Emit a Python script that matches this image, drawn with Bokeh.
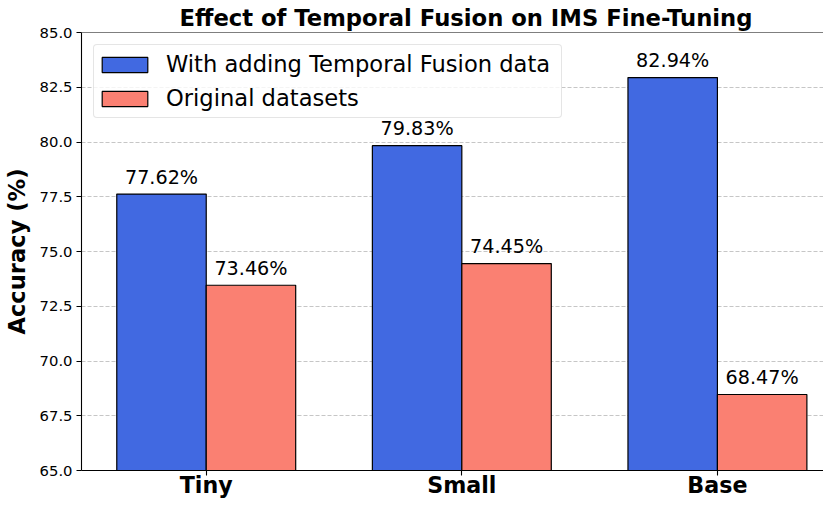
import numpy as np
from bokeh.plotting import figure
from bokeh.models import (Range1d, FixedTicker, PrintfTickFormatter, Span,
                          ColumnDataSource, Legend, LegendItem)
from bokeh.core.properties import value
from bokeh.embed import file_html
from bokeh.resources import INLINE

categories = ["Tiny", "Small", "Base"]
with_fusion = [77.62, 79.83, 82.94]
original = [73.46, 74.45, 68.47]
series_names = ["With adding Temporal Fusion data", "Original datasets"]
y_ticks = [65.0, 67.5, 70.0, 72.5, 75.0, 77.5, 80.0, 82.5, 85.0]

FONT = "DejaVu Sans"
BLUE = "#4169E1"
SALMON = "#FA8072"
bar_w = 0.35

idx = np.arange(len(categories), dtype=float)

p = figure(width=823, height=500, output_backend="svg", toolbar_location=None,
           x_range=Range1d(-0.488, 2.415), y_range=Range1d(65, 85),
           min_border_left=74, min_border_right=0, min_border_top=26,
           min_border_bottom=26, outline_line_color=None)

p.title.text = "Effect of Temporal Fusion on IMS Fine-Tuning"
p.title.text_font = FONT
p.title.text_font_size = "22.7px"
p.title.text_font_style = "bold"
p.title.text_color = "black"
p.title.text_line_height = 1.0
p.title.align = "left"
p.title.offset = 98
p.title.standoff = 4

src1 = ColumnDataSource(dict(x=idx - bar_w / 2, top=with_fusion,
                             lab=[f"{v:.2f}%" for v in with_fusion]))
src2 = ColumnDataSource(dict(x=idx + bar_w / 2, top=original,
                             lab=[f"{v:.2f}%" for v in original]))

r1 = p.vbar(x="x", top="top", bottom=65, width=bar_w, source=src1,
            fill_color=BLUE, line_color="black", line_width=1.2)
r2 = p.vbar(x="x", top="top", bottom=65, width=bar_w, source=src2,
            fill_color=SALMON, line_color="black", line_width=1.2)

for s in (src1, src2):
    p.text(x="x", y="top", text="lab", source=s, text_align="center",
           text_baseline="alphabetic", y_offset=-17,
           text_font=value(FONT), text_font_size="19.2px", text_color="black")

# axes
yax = p.yaxis[0]
yax.ticker = FixedTicker(ticks=y_ticks)
yax.formatter = PrintfTickFormatter(format="%.1f")
yax.axis_label = "Accuracy (%)"
yax.axis_label_text_font = FONT
yax.axis_label_text_font_size = "22.6px"
yax.axis_label_text_font_style = "bold"
yax.axis_label_text_color = "black"
yax.axis_label_standoff = 7
yax.major_label_text_font = FONT
yax.major_label_text_font_size = "14.8px"
yax.major_label_standoff = 4
yax.major_label_text_color = "black"

xax = p.xaxis[0]
xax.ticker = FixedTicker(ticks=list(idx))
xax.major_label_overrides = {float(i): c for i, c in zip(idx, categories)}
xax.major_label_text_font = FONT
xax.major_label_text_font_size = "22.2px"
xax.major_label_text_font_style = "bold"
xax.major_label_text_color = "black"
xax.major_label_standoff = -4

for ax in (xax, yax):
    ax.major_tick_in = 0
    ax.major_tick_out = 5
    ax.minor_tick_line_color = None
    ax.axis_line_color = "black"
    ax.axis_line_width = 1.1
    ax.major_tick_line_width = 1.1

p.add_layout(Span(location=85, dimension="width", line_color="black",
                  line_width=1.1))

p.xgrid.grid_line_color = None
p.ygrid.ticker = FixedTicker(ticks=y_ticks)
p.ygrid.grid_line_color = "#b8b8b8"
p.ygrid.grid_line_alpha = 0.8
p.ygrid.grid_line_dash = "4 2"
p.ygrid.grid_line_width = 1

legend = Legend(items=[LegendItem(label=series_names[0], renderers=[r1]),
                       LegendItem(label=series_names[1], renderers=[r2])],
                location="top_left", margin=12, padding=2, spacing=0,
                glyph_width=57, glyph_height=19, label_standoff=13,
                label_width=393, label_height=34,
                label_text_font=FONT, label_text_font_size="22.6px",
                label_text_color="black",
                border_line_color="#cccccc", border_line_width=1,
                background_fill_alpha=0.8, border_radius=4)
p.add_layout(legend)

open("out.html", "w").write(file_html(p, INLINE))
